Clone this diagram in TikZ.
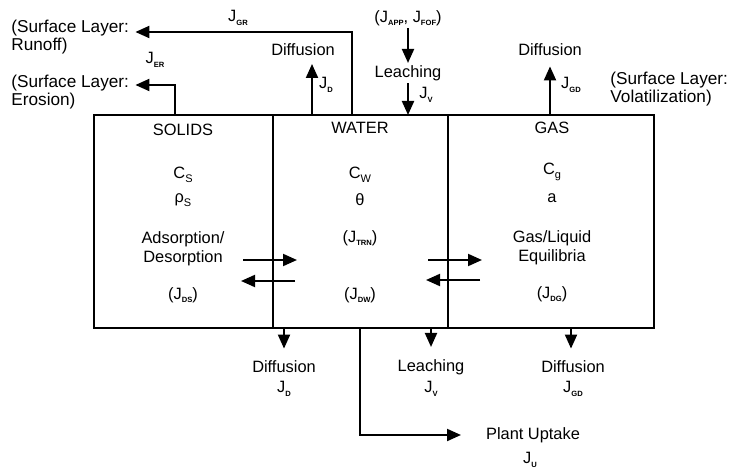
\documentclass[tikz,border=0pt]{standalone}
\usepackage{fontspec}
\setmainfont{Liberation Sans}
\usetikzlibrary{arrows.meta}

\newcommand{\jsub}[2]{#1\raisebox{-0.4ex}{\fontsize{3.8}{4}\selectfont\bfseries #2}}
\newcommand{\csub}[2]{#1\raisebox{-0.45ex}{\fontsize{5.5}{6}\selectfont #2}}

\begin{document}
\begin{tikzpicture}[
        x=0.5pt, y=-0.5pt,
        every node/.style={
            font=\fontsize{8.2}{9.5}\selectfont,
            inner sep=1pt,
            align=center
        },
        caja/.style={
            draw=black,
            line width=1pt,
            outer sep=0pt,
            minimum height=106.5pt
        },
        nota/.style={
            font=\fontsize{8.6}{8}\selectfont,
            align=left,
            anchor=west
        },
        flecha/.style={
            -{Triangle[length=7pt,width=6pt]},
            line width=1pt
        }
    ]

    \useasboundingbox (0,0) rectangle (731,469);

    % Compartimentos
    \node[caja, minimum width=89.5pt]  (solids) at (183.5,221.5) {};
    \node[caja, minimum width=87.5pt]  (water)  at (360.5,221.5) {};
    \node[caja, minimum width=103pt]   (gas)    at (551,221.5)   {};

    % Fase solida
    \node (tsol) at (183,130) {SOLIDS};
    \node (cs)   at (183,175) {\csub{C}{S}};
    \node (rho)  at (183,200) {\csub{ρ}{S}};
    \node (ads)  at (183,249) {Adsorption/\\Desorption};
    \node (jds)  at (183,295) {(\jsub{J}{DS})};

    % Fase acuosa
    \node (twat) at (360,128) {WATER};
    \node (cw)   at (360,175) {\csub{C}{W}};
    \node (teta) at (360,200) {θ};
    \node (jtrn) at (360,238) {(\jsub{J}{TRN})};
    \node (jdw)  at (360,295) {(\jsub{J}{DW})};

    % Fase gaseosa
    \node (tgas) at (552,128) {GAS};
    \node (cg)   at (552,172) {\csub{C}{g}};
    \node (aire) at (552,198) {a};
    \node (equi) at (552,248) {Gas/Liquid\\Equilibria};
    \node (jdg)  at (552,294) {(\jsub{J}{DG})};

    % Intercambio entre fases
    \coordinate (sw1) at (243,260);
    \coordinate (sw2) at (297,260);
    \coordinate (ws1) at (295,281);
    \coordinate (ws2) at (241,281);
    \coordinate (wg1) at (428,260);
    \coordinate (wg2) at (482,260);
    \coordinate (gw1) at (480,280);
    \coordinate (gw2) at (426,280);

    \draw[flecha] (sw1) -- (sw2);
    \draw[flecha] (ws1) -- (ws2);
    \draw[flecha] (wg1) -- (wg2);
    \draw[flecha] (gw1) -- (gw2);

    % Superficie
    \node[nota] (runoff)  at (9,37)   {(Surface Layer:\\Runoff)};
    \node[nota] (erosion) at (9,92)   {(Surface Layer:\\Erosion)};
    \node[nota] (volat)   at (608,89) {(Surface Layer:\\Volatilization)};

    \node (jgr)  at (238,18) {\jsub{J}{GR}};
    \node (jer)  at (155,60) {\jsub{J}{ER}};
    \node (difw) at (303,50) {Diffusion};
    \node (jdt)  at (326,85) {\jsub{J}{D}};
    \node (japp) at (408,18) {(\jsub{J}{APP}, \jsub{J}{FOF})};
    \node (leach) at (408,73) {Leaching};
    \node (jvt)  at (426,95) {\jsub{J}{V}};
    \node (difg) at (550,50) {Diffusion};
    \node (jgd)  at (571,85) {\jsub{J}{GD}};

    \coordinate (gr) at (352,32);
    \coordinate (er) at (175,85);
    \coordinate (dw) at (312,64);

    \draw[flecha] (water.north -| gr) |- ([xshift=2pt]runoff.east |- gr);
    \draw[flecha] (solids.north -| er) |- ([xshift=2pt]runoff.east |- er);
    \draw[flecha] (water.north -| dw) -- (dw);
    \draw[flecha] (japp) -- (leach);
    \draw[flecha] (leach) -- (water.north -| leach);
    \draw[flecha, shorten >=4pt] (gas.north -| difg) -- (difg);

    % Fondo
    \node (difb)   at (284,367) {Diffusion};
    \node (jdb)    at (284,389) {\jsub{J}{D}};
    \node (leachb) at (431,367) {Leaching};
    \node (jvb)    at (431,389) {\jsub{J}{V}};
    \node (difgb)  at (573,367) {Diffusion};
    \node (jgdb)   at (573,389) {\jsub{J}{GD}};
    \node (uptake) at (533,435) {Plant Uptake};
    \node (ju)     at (530,460) {\jsub{J}{U}};

    \coordinate (pu) at (360,435);
    \coordinate (putip) at (461,435);

    \draw[flecha, shorten >=5pt] (water.south -| difb) -- (difb);
    \draw[flecha, shorten >=5pt] (water.south -| leachb) -- (leachb);
    \draw[flecha, shorten >=5pt] (gas.south -| 571,0) -- (571,0 |- difgb.north);
    \draw[flecha] (water.south -| pu) |- (putip);

\end{tikzpicture}
\end{document}
